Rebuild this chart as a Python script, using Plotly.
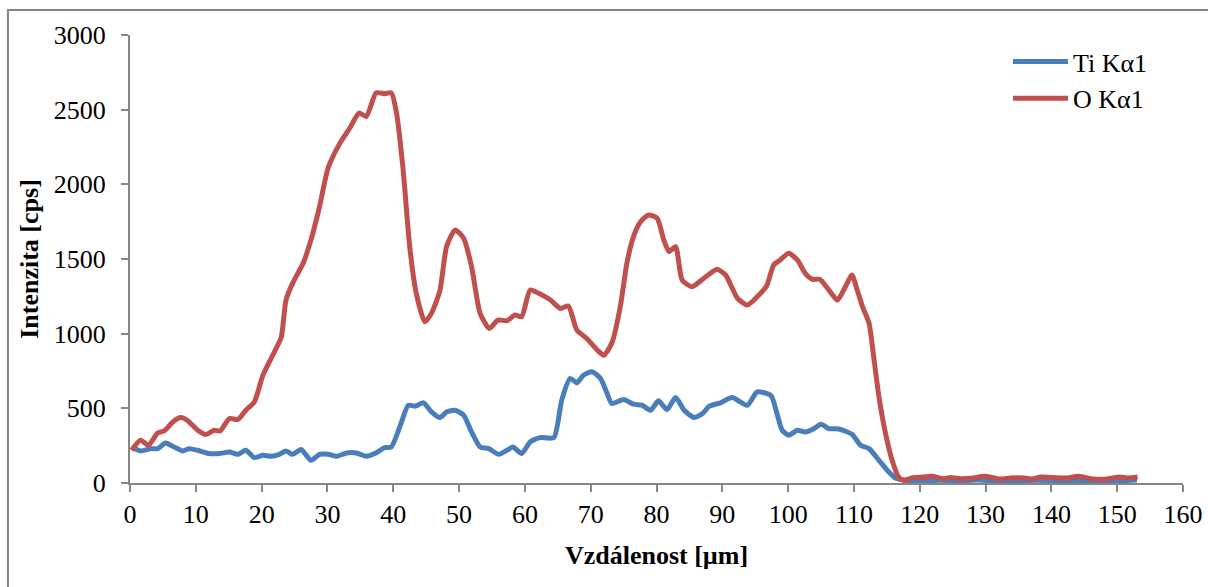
import plotly.graph_objects as go

# O Kα1 (red)
x_o = [0.25, 1.6, 2.8, 4.2, 5.2, 6.5, 7.7, 8.7, 10.3, 11.5, 12.8, 13.7, 15.1, 16.4, 17.6, 18.9, 20.2, 22.2, 23.0, 23.7,
       24.7, 26.3, 27.5, 28.8, 30.1, 31.9, 33.4, 34.8, 35.9, 37.4, 38.7, 39.7, 40.5, 41.5, 42.5, 43.5, 44.8, 45.8, 47.1,
       48.1, 49.4, 50.7, 51.9, 53.2, 54.6, 55.9, 57.3, 58.5, 59.5, 60.8, 62.1, 63.9, 65.4, 66.6, 67.9, 69.4, 71.0, 72.0,
       73.2, 74.5, 75.5, 76.5, 77.6, 78.8, 80.1, 81.1, 81.9, 82.9, 83.9, 85.4, 87.2, 89.2, 90.5, 92.3, 93.8, 95.8, 96.8,
       97.8, 98.8, 100.1, 101.4, 102.6, 103.7, 104.8, 106.2, 107.5, 108.7, 109.7, 110.5, 111.3, 112.3, 113.0, 113.8,
       114.8, 115.8, 116.8, 117.6, 118.9, 120.6, 121.9, 123.4, 124.7, 126.2, 128.2, 129.8, 132.3, 133.8, 135.9, 137.1,
       138.4, 140.4, 142.4, 144.2, 146.0, 148.0, 150.3, 151.6, 153.1]
o_vals = [219, 286, 253, 335, 349, 409, 438, 420, 353, 324, 353, 349, 432, 425, 487, 543, 722, 901, 979, 1225,
          1337, 1471, 1628, 1851, 2109, 2276, 2377, 2477, 2455, 2612, 2607, 2612, 2477, 2097, 1583, 1270, 1080, 1136, 1290,
          1583, 1695, 1639, 1449, 1136, 1035, 1091, 1087, 1125, 1113, 1292, 1270, 1225, 1169, 1185, 1024, 968, 890, 856,
          935, 1181, 1471, 1650, 1751, 1795, 1773, 1628, 1550, 1583, 1359, 1315, 1371, 1431, 1393, 1237, 1192, 1270, 1326,
          1460, 1494, 1538, 1494, 1404, 1364, 1364, 1292, 1225, 1315, 1393, 1292, 1181, 1069, 845, 577,
          331, 152, 40, 18, 36, 40, 45, 29, 36, 29, 34, 45, 27, 34, 34, 27,
          40, 36, 34, 45, 29, 25, 40, 34, 40]

# Ti Kα1 (blue)
x_ti = [0.25, 1.6, 3.1, 4.2, 5.4, 6.7, 8.0, 9.0, 10.3, 12.0, 13.6, 15.1, 16.4, 17.6, 18.9, 20.2, 21.4, 22.7, 23.7, 24.7,
        26.0, 27.5, 28.8, 30.1, 31.4, 32.9, 34.4, 35.9, 37.2, 38.7, 39.7, 41.0, 42.3, 43.3, 44.6, 45.8, 47.1, 48.1, 49.4,
        50.7, 51.9, 53.2, 54.5, 56.0, 57.3, 58.2, 59.5, 60.8, 62.3, 64.4, 65.6, 66.9, 67.9, 68.9, 70.2, 71.5, 72.5, 73.2,
        75.0, 76.5, 77.8, 79.1, 80.3, 81.6, 82.9, 84.2, 85.7, 87.0, 88.0, 89.7, 91.5, 93.8, 95.3, 97.4, 98.3, 99.1, 100.1,
        101.4, 102.6, 103.9, 105.0, 106.2, 107.7, 109.7, 111.0, 112.3, 113.8, 115.3, 116.3, 117.6, 120, 123, 126, 129,
        132, 135, 138, 141, 144, 147, 150, 153]
ti_vals = [241, 215, 230, 230, 268, 241, 215, 230, 219, 197, 197, 208, 192, 219, 170, 186, 179, 192, 215, 192,
           224, 152, 192, 192, 179, 201, 201, 179, 197, 237, 241, 376, 521, 514, 537, 476, 438, 476, 487,
           454, 342, 241, 230, 192, 219, 241, 197, 275, 304, 304, 555, 700, 671, 722, 745, 700, 599, 532,
           559, 528, 521, 487, 550, 492, 572, 487, 438, 465, 514, 537, 572, 521, 610, 585, 465, 353, 320,
           353, 342, 364, 394, 364, 362, 326, 253, 230, 152, 74, 34, 20, 12, 18, 15, 20,
           12, 14, 18, 12, 16, 12, 14, 20]

x_ticks = list(range(0, 161, 10))
y_ticks = list(range(0, 3001, 500))

FONT = "Times New Roman, Liberation Serif, DejaVu Serif, serif"
AX = "#868686"

fig = go.Figure()
fig.add_trace(go.Scatter(x=x_ti, y=ti_vals, mode="lines", name="Ti Kα1",
                         line=dict(color="#4A7EBB", width=5, shape="spline", smoothing=0.6)))
fig.add_trace(go.Scatter(x=x_o, y=o_vals, mode="lines", name="O Kα1",
                         line=dict(color="#C0504D", width=5, shape="spline", smoothing=0.6)))

fig.update_layout(
    width=1208, height=587,
    margin=dict(l=130, r=25, t=35, b=104, autoexpand=False),
    paper_bgcolor="white", plot_bgcolor="white",
    font=dict(family=FONT, size=26, color="black"),
    legend=dict(x=0.8338, y=0.993, xanchor="left", yanchor="top", bgcolor="rgba(0,0,0,0)",
                font=dict(family=FONT, size=26), itemwidth=55, tracegroupgap=0),
    xaxis=dict(range=[0, 160], tickvals=x_ticks, showline=True, linecolor=AX, linewidth=2,
               ticks="outside", ticklen=7, tickcolor=AX, tickwidth=2, showgrid=False, zeroline=False,
               tickfont=dict(family=FONT, size=26),
               title=dict(text="<b>Vzdálenost [µm]</b>", font=dict(family=FONT, size=26), standoff=18)),
    yaxis=dict(range=[0, 3000], tickvals=y_ticks, showline=True, linecolor=AX, linewidth=2,
               ticks="outside", ticklen=7, tickcolor=AX, tickwidth=2, showgrid=False, zeroline=False,
               tickfont=dict(family=FONT, size=26), ticklabelstandoff=10,
               title=dict(text="<b>Intenzita [cps]</b>", font=dict(family=FONT, size=26), standoff=8)),
    shapes=[dict(type="rect", xref="paper", yref="paper", x0=-0.1159, x1=1.3, y0=-0.4, y1=1.0558,
                 line=dict(color=AX, width=2), fillcolor="rgba(0,0,0,0)", layer="below")],
)

fig.write_html("out.html")
